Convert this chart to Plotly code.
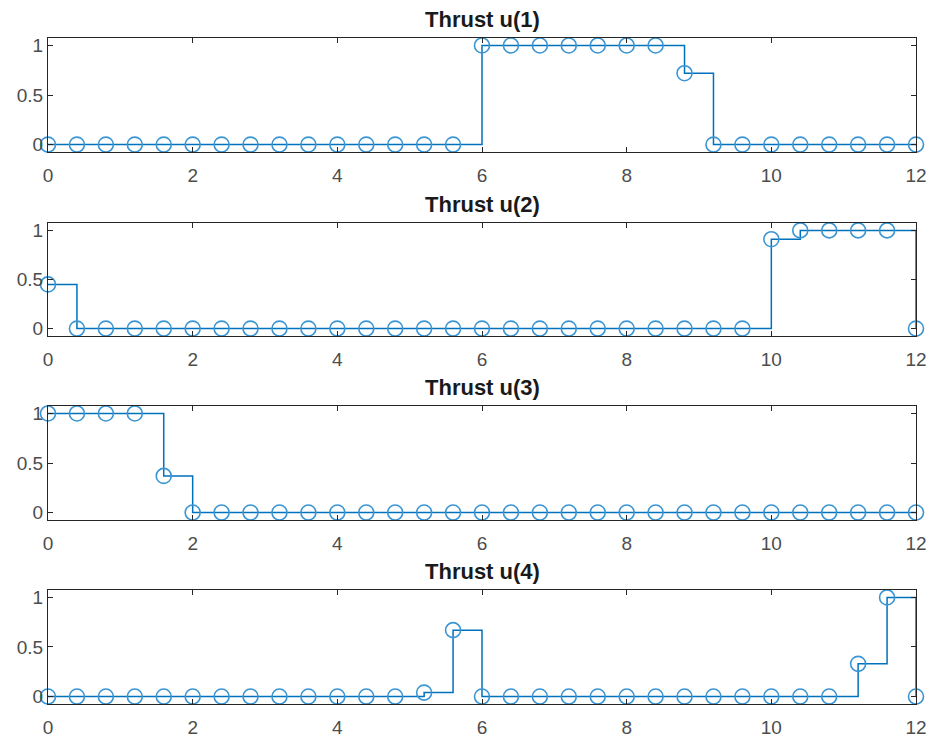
"""
Thrust inputs u(1)..u(4), drawn as stairs with circle markers.
"""

import plotly.graph_objects as go
from plotly.subplots import make_subplots


# =========================================================
# Data
# =========================================================

t = [
    0.0, 0.4, 0.8, 1.2, 1.6, 2.0, 2.4, 2.8, 3.2, 3.6, 4.0,
    4.4, 4.8, 5.2, 5.6, 6.0, 6.4, 6.8, 7.2, 7.6, 8.0,
    8.4, 8.8, 9.2, 9.6, 10.0, 10.4, 10.8, 11.2, 11.6, 12.0
]

u1 = [
    0, 0, 0, 0, 0, 0, 0, 0, 0, 0, 0,
    0, 0, 0, 0, 1, 1, 1, 1, 1, 1,
    1, 0.72, 0, 0, 0, 0, 0, 0, 0, 0
]

u2 = [
    0.45, 0, 0, 0, 0, 0, 0, 0, 0, 0, 0,
    0, 0, 0, 0, 0, 0, 0, 0, 0, 0,
    0, 0, 0, 0, 0.91, 1, 1, 1, 1, 0
]

u3 = [
    1, 1, 1, 1, 0.37, 0, 0, 0, 0, 0, 0,
    0, 0, 0, 0, 0, 0, 0, 0, 0, 0,
    0, 0, 0, 0, 0, 0, 0, 0, 0, 0
]

u4 = [
    0, 0, 0, 0, 0, 0, 0, 0, 0, 0, 0,
    0, 0, 0.04, 0.67, 0, 0, 0, 0, 0, 0,
    0, 0, 0, 0, 0, 0, 0, 0.33, 1.0, 0
]

titles = ["Thrust u(1)", "Thrust u(2)", "Thrust u(3)", "Thrust u(4)"]
series = [u1, u2, u3, u4]

x_ticks = [0, 2, 4, 6, 8, 10, 12]
y_ticks = [0, 0.5, 1]
y_tick_labels = ["0", "0.5", "1"]


# =========================================================
# Figure
# =========================================================

LINE = "#0072BD"
AXIS = "#262626"
FONT = "Liberation Sans, Arial, sans-serif"

fig = make_subplots(rows=4, cols=1)

domains = [
    [0.8288, 1.0],
    [0.5526, 0.7222],
    [0.2763, 0.4474],
    [0.0, 0.1712]
]

for i, (name, u) in enumerate(zip(titles, series)):

    row = i + 1

    fig.add_trace(
        go.Scatter(
            x=t,
            y=u,
            mode="lines+markers",
            line=dict(color=LINE, width=1.5, shape="hv"),
            marker=dict(
                symbol="circle-open",
                size=15,
                color="#3C95D3",
                line=dict(width=1.6)
            ),
            cliponaxis=False,
            showlegend=False,
            name=name
        ),
        row=row,
        col=1
    )

    fig.update_xaxes(
        range=[0, 12],
        tickvals=x_ticks,
        ticks="inside",
        ticklen=5,
        tickcolor=AXIS,
        showline=True,
        linecolor=AXIS,
        linewidth=1,
        mirror="ticks",
        showgrid=False,
        zeroline=False,
        automargin=False,
        ticklabelstandoff=6,
        tickfont=dict(size=19, color="#4D4D4D", family=FONT),
        domain=[0, 1],
        row=row,
        col=1
    )

    fig.update_yaxes(
        range=[-0.075, 1.075],
        tickvals=y_ticks,
        ticktext=y_tick_labels,
        ticks="inside",
        ticklen=5,
        tickcolor=AXIS,
        showline=True,
        linecolor=AXIS,
        linewidth=1,
        mirror="ticks",
        showgrid=False,
        zeroline=False,
        automargin=False,
        tickfont=dict(size=19, color="#4D4D4D", family=FONT),
        domain=domains[i],
        row=row,
        col=1
    )

    fig.add_annotation(
        text="<b>" + name + "</b>",
        x=0.5,
        y=domains[i][1],
        xref="paper",
        yref="paper",
        xanchor="center",
        yanchor="bottom",
        yshift=4,
        showarrow=False,
        font=dict(size=22, color="#1A1A1A", family=FONT)
    )

fig.update_layout(
    width=934,
    height=740,
    margin=dict(l=48, r=18, t=38, b=36),
    paper_bgcolor="white",
    plot_bgcolor="white"
)

# drop the page's default body margin so the figure sits at the corner
fig.write_html(
    "out.html",
    config={"displayModeBar": False},
    post_script="document.body.style.margin='0';document.body.style.overflow='hidden';"
)
